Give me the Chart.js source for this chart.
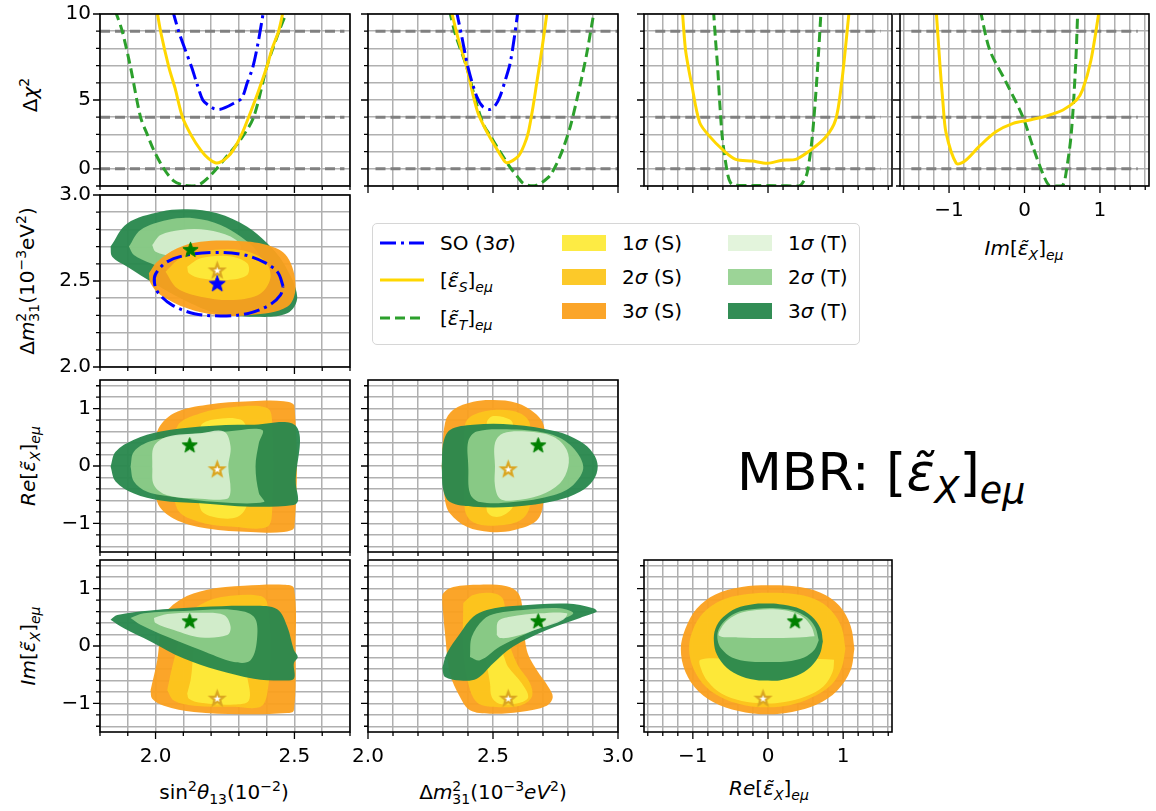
<!DOCTYPE html>
<html lang="en">
<head>
<meta charset="UTF-8">
<title>MBR corner plot</title>
<script src="https://cdn.jsdelivr.net/npm/chart.js"></script>
<style>
  body { margin: 0; background: #fff; }
  #fig { position: relative; width: 1156px; height: 811px; font-family: 'DejaVu Sans', sans-serif; color: #000; overflow: hidden; }
  .pane { position: absolute; }
  .lab { position: absolute; font-size: 20px; white-space: nowrap; transform: translate(-50%, -50%); }
  .rot { transform: translate(-50%, -50%) rotate(-90deg); }
  sub { font-size: 0.7em; vertical-align: -0.35em; line-height: 0; }
  sup { font-size: 0.7em; vertical-align: 0.55em; line-height: 0; }
  sub.under { margin-left: -0.64em; }
  #legend { position: absolute; left: 372px; top: 223px; width: 486px; height: 120px; border: 1.5px solid #d6d6d6; border-radius: 5px; }
  .li { position: absolute; font-size: 20px; white-space: nowrap; transform: translateY(-50%); }
  .patch { position: absolute; width: 44px; height: 16px; transform: translateY(-50%); }
  #mbr { position: absolute; left: 737px; top: 446px; font-size: 52px; line-height: 52px; white-space: nowrap; }
</style>
</head>
<body>
<div id="fig">
  <div class="lab rot" style="left:30px; top:95px;">Δ<i>χ</i><sup>2</sup></div>
  <div class="lab rot" style="left:27px; top:281px;">Δ<i>m</i><sup>2</sup><sub class="under">31</sub>(10<sup>−3</sup>eV<sup>2</sup>)</div>
  <div class="lab rot" style="left:28px; top:466px;"><i>Re</i>[<i>ε&#x303;</i><sub><i>X</i></sub>]<sub><i>eμ</i></sub></div>
  <div class="lab rot" style="left:28px; top:646px;"><i>Im</i>[<i>ε&#x303;</i><sub><i>X</i></sub>]<sub><i>eμ</i></sub></div>
  <div class="lab" style="left:224px; top:792px;">sin<sup>2</sup><i>θ</i><sub>13</sub>(10<sup>−2</sup>)</div>
  <div class="lab" style="left:493px; top:792px;">Δ<i>m</i><sup>2</sup><sub class="under">31</sub>(10<sup>−3</sup><i>eV</i><sup>2</sup>)</div>
  <div class="lab" style="left:769px; top:788px;"><i>Re</i>[<i>ε&#x303;</i><sub><i>X</i></sub>]<sub><i>eμ</i></sub></div>
  <div class="lab" style="left:1024px; top:248px;"><i>Im</i>[<i>ε&#x303;</i><sub><i>X</i></sub>]<sub><i>eμ</i></sub></div>

  <div id="legend"></div>
  <svg style="position:absolute; left:380px; top:238px;" width="44" height="10"><line x1="0" y1="5" x2="44" y2="5" stroke="#0000ff" stroke-width="3" stroke-dasharray="16,5,3,5"/></svg>
  <svg style="position:absolute; left:380px; top:275px;" width="44" height="10"><line x1="0" y1="5" x2="44" y2="5" stroke="#ffd700" stroke-width="3"/></svg>
  <svg style="position:absolute; left:380px; top:313px;" width="44" height="10"><line x1="0" y1="5" x2="44" y2="5" stroke="#2ca02c" stroke-width="3" stroke-dasharray="10,5"/></svg>
  <div class="li" style="left:440px; top:243px;">SO (3<i>σ</i>)</div>
  <div class="li" style="left:440px; top:280px;">[<i>ε&#x303;</i><sub><i>S</i></sub>]<sub><i>eμ</i></sub></div>
  <div class="li" style="left:440px; top:318px;">[<i>ε&#x303;</i><sub><i>T</i></sub>]<sub><i>eμ</i></sub></div>

  <div id="mbr">MBR: [<i>ε&#x303;</i><sub><i>X</i></sub>]<sub><i>eμ</i></sub></div>
</div>

<script>
// ---- axes: ranges, tick positions, labelled ticks ----
const thRange = [1.8, 2.7];
const thTicks = [1.8, 1.9, 2.0, 2.1, 2.2, 2.3, 2.4, 2.5, 2.6, 2.7];
const thMajor = [2.0, 2.5];
const thLabels = ['2.0', '2.5'];

const dmRange = [2.0, 3.0];
const dmTicks = [2.0, 2.1, 2.2, 2.3, 2.4, 2.5, 2.6, 2.7, 2.8, 2.9, 3.0];
const dmMajor = [2.0, 2.5, 3.0];
const dmLabels = ['2.0', '2.5', '3.0'];

const epsRange = [-1.65, 1.65];
const epsTicks = [-1.6, -1.4, -1.2, -1.0, -0.8, -0.6, -0.4, -0.2, 0, 0.2, 0.4, 0.6, 0.8, 1.0, 1.2, 1.4, 1.6];
const epsYRange = [-1.5, 1.5];
const epsYTicks = [-1.4, -1.2, -1.0, -0.8, -0.6, -0.4, -0.2, 0, 0.2, 0.4, 0.6, 0.8, 1.0, 1.2, 1.4];
const epsMajor = [-1.0, 0, 1.0];
const epsLabels = ['−1', '0', '1'];

const chiRange = [0, 10];
const chiTicks = [0, 1, 2, 3, 4, 5, 6, 7, 8, 9, 10];
const chiMajor = [1, 5, 10];
const chiLabels = ['0', '5', '10'];

// confidence levels drawn in the 1D panels and their x extent per column
const chiLevels = [1, 4, 9];
const thLevelSpan = [1.8, 2.68];
const dmLevelSpan = [2.03, 3.0];
const reLevelSpan = [-1.5, 1.5];
const imLevelSpan = [-1.5, 1.5];

// ---- 1D delta chi^2 profiles ----
const th_SO = [[2.06,10.3],[2.083,9.0],[2.105,8.0],[2.13,6.9],[2.15,5.9],[2.17,5.0],[2.19,4.7],[2.21,4.5],[2.23,4.45],[2.25,4.55],[2.28,4.8],[2.31,5.1],[2.33,6.0],[2.35,6.9],[2.37,8.4],[2.39,10.3]];
const th_S = [[2.005,10.2],[2.018,9.0],[2.048,6.9],[2.07,5.7],[2.097,4.0],[2.13,2.9],[2.162,2.1],[2.19,1.6],[2.215,1.35],[2.235,1.4],[2.26,1.7],[2.28,2.1],[2.31,3.0],[2.335,4.0],[2.37,5.5],[2.40,6.9],[2.42,8.0],[2.443,9.0],[2.46,10.2]];
const th_T = [[1.855,10.2],[1.88,9.0],[1.91,6.9],[1.946,4.0],[1.97,3.0],[1.993,2.1],[2.03,1.0],[2.065,0.3],[2.10,0.05],[2.13,0.0],[2.16,0.1],[2.20,0.65],[2.25,1.6],[2.306,2.7],[2.353,4.0],[2.40,6.9],[2.44,8.8],[2.474,10.2]];

const dm_SO = [[2.352,10.3],[2.375,8.7],[2.40,6.9],[2.435,5.2],[2.46,4.6],[2.488,4.45],[2.51,4.7],[2.528,5.2],[2.55,6.2],[2.568,7.1],[2.585,8.6],[2.60,10.2]];
const dm_S = [[2.333,10.2],[2.36,8.6],[2.395,6.9],[2.42,5.3],[2.441,4.2],[2.47,3.3],[2.501,2.5],[2.53,1.8],[2.555,1.35],[2.601,1.73],[2.625,2.4],[2.641,3.1],[2.66,4.6],[2.675,6.0],[2.69,7.4],[2.701,8.5],[2.717,10.2]];
const dm_T = [[2.326,10.2],[2.35,8.8],[2.395,6.9],[2.43,5.0],[2.461,3.6],[2.49,2.9],[2.515,2.3],[2.568,1.1],[2.60,0.5],[2.621,0.15],[2.65,0.02],[2.675,0.05],[2.70,0.25],[2.728,0.6],[2.755,1.3],[2.781,2.2],[2.81,3.5],[2.835,5.0],[2.855,6.3],[2.875,7.7],[2.905,10.2]];

const re_S = [[-1.14,10.2],[-1.10,8.0],[-1.06,6.9],[-1.02,6.0],[-0.91,3.7],[-0.78,2.9],[-0.60,2.1],[-0.43,1.55],[-0.21,1.45],[-0.01,1.32],[0.19,1.5],[0.37,1.55],[0.54,2.0],[0.76,2.8],[0.90,3.85],[0.98,6.0],[1.03,8.0],[1.08,10.2]];
const re_T = [[-0.725,10.2],[-0.70,8.6],[-0.67,6.9],[-0.64,4.7],[-0.605,2.7],[-0.54,0.75],[-0.50,0.2],[-0.45,0.05],[-0.2,0.03],[0.1,0.02],[0.41,0.0],[0.47,0.25],[0.52,0.75],[0.578,2.4],[0.63,5.0],[0.675,7.9],[0.706,10.2]];

const im_S = [[-1.17,10.2],[-1.12,7.0],[-1.08,4.8],[-1.04,3.1],[-0.905,1.32],[-0.80,1.42],[-0.60,2.3],[-0.38,3.15],[-0.15,3.64],[0.07,3.84],[0.29,4.07],[0.51,4.42],[0.69,5.0],[0.77,5.6],[0.88,7.3],[0.99,10.2]];
const im_T = [[-0.585,10.2],[-0.46,7.9],[-0.24,6.0],[-0.02,4.0],[0.11,2.3],[0.24,0.75],[0.33,0.02],[0.45,0.0],[0.51,0.06],[0.55,0.74],[0.62,3.06],[0.676,6.9],[0.706,10.2]];

// ---- 2D allowed regions (S = scalar, T = tensor; 1,2,3 sigma) ----
const thdm_T3 = [[1.838,2.70],[1.898,2.835],[2.018,2.903],[2.114,2.917],[2.222,2.894],[2.33,2.816],[2.402,2.719],[2.461,2.603],[2.51,2.409],[2.474,2.312],[2.354,2.292],[2.222,2.312],[2.102,2.39],[1.994,2.487],[1.898,2.583],[1.844,2.641]];
const thdm_T2 = [[1.904,2.70],[1.946,2.797],[2.042,2.855],[2.138,2.865],[2.234,2.826],[2.306,2.758],[2.366,2.67],[2.38,2.58],[2.30,2.52],[2.21,2.506],[2.078,2.545],[1.982,2.603],[1.922,2.651]];
const thdm_T1 = [[1.988,2.709],[2.018,2.767],[2.09,2.797],[2.186,2.797],[2.27,2.758],[2.306,2.70],[2.282,2.622],[2.162,2.612],[2.066,2.641],[2.0,2.67]];
const thdm_S3 = [[1.976,2.545],[2.006,2.612],[2.078,2.69],[2.162,2.728],[2.282,2.734],[2.402,2.709],[2.474,2.641],[2.504,2.467],[2.474,2.35],[2.342,2.302],[2.222,2.302],[2.114,2.341],[2.018,2.419],[1.982,2.487]];
const thdm_S2 = [[2.036,2.554],[2.09,2.632],[2.186,2.676],[2.306,2.68],[2.39,2.622],[2.414,2.525],[2.378,2.428],[2.282,2.39],[2.162,2.409],[2.078,2.458]];
const thdm_S1 = [[2.114,2.583],[2.162,2.632],[2.258,2.645],[2.33,2.603],[2.33,2.535],[2.258,2.506],[2.162,2.516],[2.12,2.545]];
const thdm_SO = [[2.459,2.47],[2.44,2.55],[2.39,2.61],[2.31,2.655],[2.21,2.666],[2.11,2.65],[2.04,2.61],[2.0,2.54],[1.996,2.49],[2.01,2.43],[2.06,2.36],[2.14,2.31],[2.234,2.297],[2.33,2.31],[2.41,2.36],[2.45,2.42]];

const thre_S3 = [[2.0,0.0],[2.006,0.60],[2.066,0.92],[2.186,1.07],[2.342,1.13],[2.462,1.13],[2.50,1.04],[2.50,-1.06],[2.462,-1.15],[2.342,-1.15],[2.186,-1.09],[2.066,-0.92],[2.006,-0.63]];
const thre_S2 = [[2.07,0.0],[2.078,0.69],[2.162,0.92],[2.282,1.03],[2.402,1.01],[2.42,0.75],[2.42,-0.75],[2.402,-1.06],[2.282,-1.06],[2.162,-0.98],[2.078,-0.75]];
const thre_S1 = [[2.15,0.0],[2.162,0.69],[2.21,0.81],[2.306,0.81],[2.33,0.60],[2.33,-0.65],[2.294,-0.89],[2.21,-0.89],[2.162,-0.75]];
const thre_T3 = [[1.838,-0.01],[1.856,0.25],[1.922,0.46],[2.018,0.60],[2.162,0.69],[2.342,0.72],[2.507,0.69],[2.505,-0.3],[2.513,-0.60],[2.497,-0.68],[2.342,-0.71],[2.162,-0.65],[2.018,-0.60],[1.922,-0.48],[1.856,-0.27]];
const thre_T2 = [[1.91,-0.01],[1.922,0.25],[1.982,0.43],[2.102,0.54],[2.258,0.60],[2.384,0.63],[2.372,0.40],[2.36,-0.01],[2.372,-0.47],[2.39,-0.63],[2.222,-0.63],[2.066,-0.54],[1.97,-0.45],[1.922,-0.27]];
const thre_T1 = [[1.988,-0.01],[1.994,0.34],[2.042,0.51],[2.162,0.57],[2.246,0.60],[2.27,0.34],[2.262,-0.01],[2.27,-0.42],[2.258,-0.57],[2.162,-0.57],[2.042,-0.51],[1.994,-0.33]];

const dmre_S3 = [[2.295,-0.01],[2.308,0.75],[2.341,0.98],[2.421,1.12],[2.501,1.15],[2.595,1.10],[2.668,0.92],[2.704,0.69],[2.71,0.0],[2.701,-0.65],[2.675,-0.95],[2.581,-1.12],[2.488,-1.15],[2.395,-1.06],[2.328,-0.83],[2.308,-0.60]];
const dmre_S2 = [[2.388,-0.01],[2.388,0.72],[2.421,0.89],[2.515,0.98],[2.608,0.92],[2.648,0.72],[2.648,-0.68],[2.608,-0.95],[2.501,-1.04],[2.421,-0.98],[2.388,-0.77]];
const dmre_S1 = [[2.475,-0.01],[2.475,0.75],[2.501,0.87],[2.568,0.81],[2.581,0.69],[2.581,-0.68],[2.541,-0.86],[2.501,-0.88],[2.475,-0.77]];
const dmre_T3 = [[2.295,-0.01],[2.301,0.40],[2.328,0.63],[2.421,0.72],[2.581,0.72],[2.755,0.60],[2.848,0.43],[2.901,0.22],[2.919,-0.01],[2.901,-0.25],[2.848,-0.45],[2.755,-0.60],[2.581,-0.71],[2.421,-0.71],[2.328,-0.63],[2.301,-0.42]];
const dmre_T2 = [[2.401,-0.01],[2.401,0.43],[2.435,0.60],[2.555,0.64],[2.715,0.57],[2.808,0.37],[2.861,-0.01],[2.821,-0.33],[2.741,-0.51],[2.581,-0.63],[2.448,-0.63],[2.408,-0.48]];
const dmre_T1 = [[2.508,-0.01],[2.508,0.40],[2.541,0.57],[2.635,0.60],[2.741,0.51],[2.795,0.28],[2.801,-0.01],[2.768,-0.30],[2.688,-0.51],[2.581,-0.60],[2.528,-0.57],[2.508,-0.35]];

const thim_S3 = [[1.982,-0.77],[2.006,-0.25],[2.03,0.51],[2.09,0.81],[2.186,0.98],[2.318,1.05],[2.462,1.07],[2.498,1.01],[2.504,-0.07],[2.498,-1.12],[2.474,-1.17],[2.306,-1.19],[2.138,-1.15],[2.03,-1.04],[1.988,-0.92]];
const thim_S2 = [[2.042,-0.77],[2.066,-0.25],[2.114,0.51],[2.186,0.78],[2.282,0.88],[2.378,0.87],[2.402,0.75],[2.414,-0.07],[2.402,-0.83],[2.378,-1.06],[2.282,-1.06],[2.138,-1.04],[2.066,-0.95]];
const thim_S1 = [[2.114,-0.83],[2.126,-0.60],[2.16,0.2],[2.30,0.1],[2.33,-0.54],[2.336,-0.95],[2.282,-1.02],[2.162,-0.99],[2.12,-0.92]];
const thim_T3 = [[1.838,0.46],[1.862,0.54],[1.982,0.62],[2.162,0.68],[2.354,0.70],[2.438,0.64],[2.474,0.34],[2.498,-0.07],[2.512,-0.19],[2.498,-0.30],[2.498,-0.57],[2.45,-0.60],[2.354,-0.57],[2.222,-0.42],[2.102,-0.22],[1.982,0.08],[1.886,0.31]];
const thim_T2 = [[1.91,0.49],[1.958,0.57],[2.102,0.61],[2.282,0.63],[2.354,0.51],[2.366,0.16],[2.342,-0.25],[2.282,-0.28],[2.162,-0.07],[2.042,0.16],[1.946,0.37]];
const thim_T1 = [[1.994,0.49],[2.042,0.56],[2.162,0.58],[2.246,0.54],[2.27,0.34],[2.258,0.19],[2.162,0.15],[2.066,0.28],[2.0,0.40]];

const dmim_S3 = [[2.297,0.75],[2.301,0.92],[2.341,1.03],[2.448,1.07],[2.555,1.04],[2.601,0.92],[2.619,0.63],[2.635,-0.07],[2.675,-0.42],[2.721,-0.71],[2.739,-0.89],[2.715,-1.04],[2.608,-1.15],[2.488,-1.18],[2.408,-1.12],[2.368,-0.89],[2.328,-0.48],[2.308,0.22]];
const dmim_S2 = [[2.381,0.75],[2.421,0.89],[2.501,0.92],[2.541,0.81],[2.555,0.22],[2.595,-0.30],[2.648,-0.65],[2.655,-0.89],[2.608,-1.04],[2.501,-1.06],[2.435,-0.98],[2.401,-0.65],[2.381,-0.07]];
const dmim_S1 = [[2.47,-0.2],[2.53,-0.1],[2.56,-0.36],[2.615,-0.65],[2.641,-0.89],[2.608,-0.99],[2.528,-1.01],[2.495,-0.89],[2.488,-0.65]];
const dmim_T3 = [[2.297,-0.39],[2.315,-0.13],[2.368,0.22],[2.421,0.51],[2.475,0.63],[2.595,0.70],[2.795,0.74],[2.901,0.66],[2.915,0.60],[2.848,0.49],[2.715,0.28],[2.581,-0.01],[2.501,-0.30],[2.435,-0.57],[2.368,-0.60],[2.308,-0.54]];
const dmim_T2 = [[2.408,-0.19],[2.415,0.16],[2.461,0.46],[2.515,0.57],[2.621,0.63],[2.768,0.66],[2.821,0.57],[2.755,0.43],[2.635,0.22],[2.528,-0.01],[2.448,-0.25]];
const dmim_T1 = [[2.515,0.19],[2.521,0.43],[2.568,0.51],[2.688,0.57],[2.795,0.57],[2.781,0.46],[2.688,0.31],[2.581,0.16],[2.528,0.14]];

const reim_S3 = [[1.15,-0.05],[1.10,0.35],[0.95,0.70],[0.70,0.93],[0.35,1.04],[0.0,1.06],[-0.35,1.03],[-0.70,0.90],[-0.95,0.65],[-1.10,0.30],[-1.16,-0.05],[-1.10,-0.45],[-0.92,-0.80],[-0.65,-1.03],[-0.30,-1.16],[0.0,-1.19],[0.32,-1.15],[0.65,-1.02],[0.92,-0.78],[1.10,-0.42]];
const reim_S2 = [[1.03,-0.05],[0.98,0.32],[0.84,0.62],[0.62,0.82],[0.32,0.91],[0.0,0.93],[-0.32,0.90],[-0.62,0.80],[-0.86,0.58],[-1.00,0.28],[-1.05,-0.05],[-0.99,-0.40],[-0.82,-0.72],[-0.57,-0.93],[-0.28,-1.04],[0.0,-1.07],[0.30,-1.03],[0.58,-0.90],[0.84,-0.68],[0.98,-0.38]];
const reim_S1 = [[0.88,-0.24],[0.86,-0.45],[0.74,-0.70],[0.50,-0.88],[0.20,-0.98],[-0.05,-1.00],[-0.35,-0.96],[-0.62,-0.83],[-0.80,-0.62],[-0.89,-0.40],[-0.90,-0.24],[-0.5,-0.22],[0.0,-0.22],[0.5,-0.22]];
const reim_T3 = [[0.73,0.08],[0.70,0.30],[0.58,0.52],[0.38,0.67],[0.15,0.73],[0.0,0.74],[-0.20,0.73],[-0.42,0.66],[-0.60,0.50],[-0.70,0.30],[-0.72,0.08],[-0.68,-0.15],[-0.55,-0.38],[-0.35,-0.53],[-0.12,-0.60],[0.0,-0.60],[0.15,-0.60],[0.38,-0.52],[0.57,-0.36],[0.69,-0.14]];
const reim_T2 = [[0.675,0.10],[0.63,0.32],[0.52,0.50],[0.33,0.62],[0.10,0.66],[-0.15,0.65],[-0.38,0.60],[-0.56,0.46],[-0.66,0.28],[-0.67,0.10],[-0.62,-0.05],[-0.48,-0.20],[-0.25,-0.27],[0.0,-0.28],[0.25,-0.27],[0.48,-0.20],[0.62,-0.06]];
const reim_T1 = [[0.62,0.17],[0.58,0.33],[0.47,0.50],[0.30,0.60],[0.08,0.64],[-0.15,0.63],[-0.36,0.58],[-0.53,0.46],[-0.62,0.32],[-0.65,0.18],[-0.40,0.15],[0.0,0.14],[0.40,0.15]];

// best-fit points [x, y]
const thdm_best = { T: [2.126, 2.684], S: [2.222, 2.564], SO: [2.222, 2.487] };
const thre_best = { T: [2.123, 0.37], S: [2.222, -0.05] };
const dmre_best = { T: [2.681, 0.37], S: [2.561, -0.05] };
const thim_best = { T: [2.123, 0.44], S: [2.222, -0.91] };
const dmim_best = { T: [2.681, 0.44], S: [2.561, -0.91] };
const reim_best = { T: [0.358, 0.44], S: [-0.066, -0.91] };

// ---- styling ----
const C = {
  S1: 'rgba(253,234,58,0.95)', S2: 'rgba(252,198,30,0.95)', S3: 'rgba(251,160,30,0.95)',
  T1: 'rgba(222,242,214,0.85)', T2: 'rgba(145,207,140,0.9)', T3: 'rgba(42,136,78,0.96)',
  blue: '#0000ff', gold: '#ffd700', green: '#2ca02c', gray: '#808080'
};
const PAD_L = 60, PAD_B = 40, PAD_T = 26, PAD_R = 38;

// legend patches
const patchRows = [243, 277, 311];
[['S1', 562, '1'], ['S2', 562, '2'], ['S3', 562, '3'], ['T1', 728, '1'], ['T2', 728, '2'], ['T3', 728, '3']].forEach((p, i) => {
  const y = patchRows[i % 3];
  const fig = document.getElementById('fig');
  const sw = document.createElement('div');
  sw.className = 'patch';
  sw.style.left = p[1] + 'px'; sw.style.top = y + 'px'; sw.style.background = C[p[0]];
  fig.appendChild(sw);
  const t = document.createElement('div');
  t.className = 'li';
  t.style.left = (p[1] + 60) + 'px'; t.style.top = y + 'px';
  t.innerHTML = p[2] + '<i>σ</i> (' + p[0][0] + ')';
  fig.appendChild(t);
});

function starImg(fill, edge, r, lw) {
  const c = document.createElement('canvas');
  const s = Math.ceil(2 * r + lw + 4);
  c.width = c.height = s;
  const g = c.getContext('2d');
  g.translate(s / 2, s / 2 + r * 0.1);
  g.beginPath();
  for (let i = 0; i < 10; i++) {
    const rr = i % 2 ? r * 0.42 : r;
    const a = -Math.PI / 2 + i * Math.PI / 5;
    g.lineTo(rr * Math.cos(a), rr * Math.sin(a));
  }
  g.closePath();
  g.fillStyle = fill; g.fill();
  g.lineJoin = 'miter'; g.lineWidth = lw; g.strokeStyle = edge; g.stroke();
  return c;
}
const starT = starImg('#008000', '#008000', 8, 1);
const starS = starImg('#ffffff', '#daa520', 7, 2.2);
const starSO = starImg('#0000ff', '#0000ff', 8.5, 1);

const xy = pts => pts.map(p => ({ x: p[0], y: p[1] }));

function region(pts, color) {
  return { data: xy(pts.concat([pts[0]])), fill: 'shape', backgroundColor: color,
           borderWidth: 0, borderColor: 'rgba(0,0,0,0)', pointRadius: 0, tension: 0.35 };
}
function curve(pts, color, dash, width) {
  return { data: xy(pts), fill: false, borderColor: color, borderWidth: width || 3,
           borderDash: dash || [], pointRadius: 0, tension: 0.3 };
}
function star(p, img) {
  return { data: xy([p]), showLine: false, pointStyle: img, pointRadius: 8 };
}
function levels(span) {
  return chiLevels.map(v => ({ data: xy([[span[0], v], [span[1], v]]), fill: false,
    borderColor: C.gray, borderWidth: 3, borderDash: [10, 5], pointRadius: 0 }));
}
// bottom-to-top list -> Chart.js order (higher order drawn first)
function stack(list) {
  return list.map((d, i) => Object.assign(d, { order: list.length - i }));
}

const TH = { range: thRange, ticks: thTicks, major: thMajor, labels: thLabels };
const DM = { range: dmRange, ticks: dmTicks, major: dmMajor, labels: dmLabels };
const EPSX = { range: epsRange, ticks: epsTicks, major: epsMajor, labels: epsLabels };
const EPSY = { range: epsYRange, ticks: epsYTicks, major: epsMajor, labels: epsLabels };
const CHI = { range: chiRange, ticks: chiTicks, major: chiMajor, labels: chiLabels };

function axis(a, show, dir) {
  return {
    type: 'linear', min: a.range[0], max: a.range[1],
    afterBuildTicks: s => { s.ticks = a.ticks.map(v => ({ value: v, major: a.major.includes(v) })); },
    afterFit: s => { if (dir === 'x') s.height = PAD_B; else s.width = PAD_L; },
    grid: { color: '#b0b0b0', lineWidth: 1.5, drawTicks: false },
    border: { display: false },
    ticks: {
      display: show, autoSkip: false, maxRotation: 0, minRotation: 0,
      padding: dir === 'x' ? 13 : 9, color: '#000',
      font: { family: 'DejaVu Sans', size: 20 },
      callback: v => { const i = a.major.indexOf(v); return i >= 0 ? a.labels[i] : ''; }
    }
  };
}

// frame and outward tick marks
const frame = {
  id: 'frame',
  afterDraw(chart) {
    const { ctx, chartArea: ca, scales } = chart;
    ctx.save();
    ctx.strokeStyle = '#000';
    ctx.lineWidth = 1.3;
    ctx.beginPath();
    scales.x.ticks.forEach(t => {
      const px = scales.x.getPixelForValue(t.value);
      ctx.moveTo(px, ca.bottom); ctx.lineTo(px, ca.bottom + (t.major ? 7 : 4));
    });
    scales.y.ticks.forEach(t => {
      const py = scales.y.getPixelForValue(t.value);
      ctx.moveTo(ca.left, py); ctx.lineTo(ca.left - (t.major ? 7 : 4), py);
    });
    ctx.stroke();
    ctx.lineWidth = 1.6;
    ctx.strokeRect(ca.left, ca.top, ca.right - ca.left, ca.bottom - ca.top);
    ctx.restore();
  }
};

function panel(box, X, Y, showX, showY, datasets) {
  const div = document.createElement('div');
  div.className = 'pane';
  div.style.left = (box[0] - PAD_L) + 'px';
  div.style.top = (box[1] - PAD_T) + 'px';
  div.style.width = (box[2] - box[0] + PAD_L + PAD_R) + 'px';
  div.style.height = (box[3] - box[1] + PAD_T + PAD_B) + 'px';
  const cv = document.createElement('canvas');
  div.appendChild(cv);
  document.getElementById('fig').appendChild(div);
  new Chart(cv, {
    type: 'line',
    data: { datasets: stack(datasets) },
    options: {
      responsive: true, maintainAspectRatio: false, animation: false,
      layout: { padding: { top: PAD_T, right: PAD_R, left: 0, bottom: 0 } },
      plugins: { legend: { display: false }, tooltip: { enabled: false } },
      scales: { x: axis(X, showX, 'x'), y: axis(Y, showY, 'y') }
    },
    plugins: [frame]
  });
}

function prof(span, T, S, SO) {
  const list = levels(span).concat([curve(T, C.green, [10, 5]), curve(S, C.gold)]);
  if (SO) list.push(curve(SO, C.blue, [16, 5, 3, 5]));
  return list;
}
function tFirst(R, b) { // tensor regions drawn over scalar regions
  return [region(R[0], C.S3), region(R[1], C.S2), region(R[2], C.S1),
          region(R[3], C.T3), region(R[4], C.T2), region(R[5], C.T1),
          star(b.S, starS), star(b.T, starT)];
}

// row 1: delta chi^2
panel([100, 14, 350, 186], TH, CHI, false, true, prof(thLevelSpan, th_T, th_S, th_SO));
panel([368, 14, 618, 186], DM, CHI, false, false, prof(dmLevelSpan, dm_T, dm_S, dm_SO));
panel([644, 14, 892, 186], EPSX, CHI, false, false, prof(reLevelSpan, re_T, re_S));
panel([900, 14, 1149, 186], EPSX, CHI, true, false, prof(imLevelSpan, im_T, im_S));

// row 2: sin^2 theta13 vs dm31
panel([100, 195, 350, 367], TH, DM, false, true, [
  region(thdm_T3, C.T3), region(thdm_T2, C.T2), region(thdm_T1, C.T1),
  region(thdm_S3, C.S3), region(thdm_S2, C.S2), region(thdm_S1, C.S1),
  Object.assign(curve(thdm_SO.concat([thdm_SO[0]]), C.blue, [16, 5, 3, 5]), { tension: 0.35 }),
  star(thdm_best.T, starT), star(thdm_best.S, starS), star(thdm_best.SO, starSO)
]);

// row 3: Re
panel([100, 380, 350, 552], TH, EPSY, false, true, tFirst([thre_S3, thre_S2, thre_S1, thre_T3, thre_T2, thre_T1], thre_best));
panel([368, 380, 618, 552], DM, EPSY, false, false, tFirst([dmre_S3, dmre_S2, dmre_S1, dmre_T3, dmre_T2, dmre_T1], dmre_best));

// row 4: Im
panel([100, 560, 350, 732], TH, EPSY, true, true, tFirst([thim_S3, thim_S2, thim_S1, thim_T3, thim_T2, thim_T1], thim_best));
panel([368, 560, 618, 732], DM, EPSY, true, false, tFirst([dmim_S3, dmim_S2, dmim_S1, dmim_T3, dmim_T2, dmim_T1], dmim_best));
panel([644, 560, 892, 732], EPSX, EPSY, true, false, tFirst([reim_S3, reim_S2, reim_S1, reim_T3, reim_T2, reim_T1], reim_best));
</script>
</body>
</html>
